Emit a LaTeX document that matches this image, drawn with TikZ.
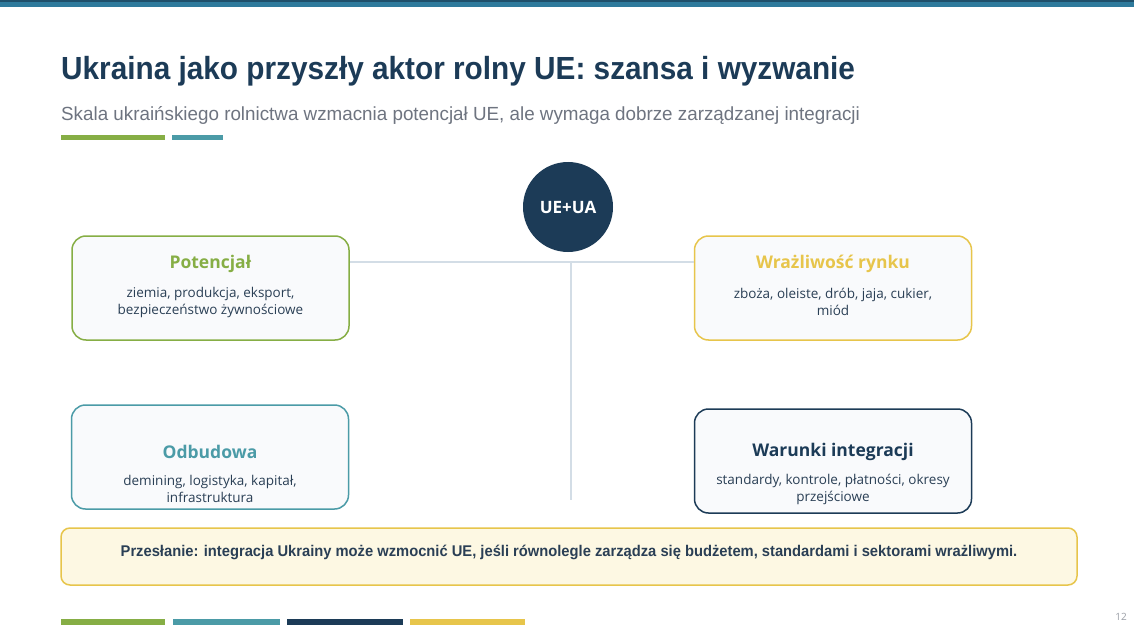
\documentclass[tikz,border=0pt]{standalone}
\usepackage{fontspec}
\setmainfont{Open Sans}
\newfontfamily\titlefont[FakeStretch=0.93]{Liberation Sans}
\newfontfamily\subfont[FakeStretch=0.99]{Liberation Sans}
\newfontfamily\msgfont[FakeStretch=0.95]{Liberation Sans}
\definecolor{cgreen}{HTML}{86AE45}
\definecolor{cteal}{HTML}{4B9BA7}
\definecolor{cnavy}{HTML}{1C3B57}
\definecolor{cyellow}{HTML}{E7C54B}
\definecolor{cbox}{HTML}{F9FAFC}
\definecolor{cline}{HTML}{D3DDE6}
\definecolor{ctext}{HTML}{2A3F55}
\definecolor{csub}{HTML}{6E7480}
\definecolor{cmsg}{HTML}{FDF8E3}
\definecolor{cbar}{HTML}{2E7A9C}
\definecolor{cbartop}{HTML}{1F4F6A}
\tikzset{
  card/.style={draw=#1, line width=1.5pt, fill=cbox, rounded corners=14pt,
    minimum width=277pt, minimum height=104pt, inner sep=0pt},
  cardtitle/.style={text=#1, font=\fontsize{17.5}{20}\selectfont\bfseries, inner sep=0pt},
  cardbody/.style={text=ctext, font=\fontsize{13.5}{17}\selectfont, align=center, inner sep=0pt},
  conn/.style={draw=cline, line width=2.5pt},
  accent/.style={fill=#1, draw=none},
}
\begin{document}
\begin{tikzpicture}[x=1pt,y=-1pt]
\useasboundingbox[fill=white] (0,0) rectangle (1134,639);
% top bar
\fill[cbar] (0,0) rectangle (1134,7);
\fill[cbartop] (0,0) rectangle (1134,2);
% title
\node[anchor=base west, inner sep=0pt, text=cnavy, font=\titlefont\fontsize{32}{36}\selectfont\bfseries] (title) at (61,80) {Ukraina jako przyszły aktor rolny UE: szansa i wyzwanie};
\node[anchor=base west, inner sep=0pt, text=csub, font=\subfont\fontsize{19}{22}\selectfont] (subtitle) at (61,121) {Skala ukraińskiego rolnictwa wzmacnia potencjał UE, ale wymaga dobrze zarządzanej integracji};
\fill[accent=cgreen] (61,135) rectangle (165,140);
\fill[accent=cteal] (172,135) rectangle (223,140);
% hub
\coordinate (hub) at (571,262);
\coordinate (vend) at (571,500);
% cards
\node[card=cgreen] (pot) at (210.5,288) {};
\node[card=cyellow] (wr) at (833,288) {};
\node[card=cteal] (odb) at (210,457) {};
\node[card=cnavy] (war) at (833,461) {};
% connectors
\draw[conn] (pot.east |- hub) -- (wr.west |- hub);
\draw[conn] (hub) -- (vend);
% circle
\node[circle, fill=cnavy, minimum size=90pt, inner sep=0pt, text=white, font=\fontsize{17}{20}\selectfont\bfseries] (ueua) at (568,207) {UE+UA};
% card texts
\node[cardtitle=cgreen] (potT) at (210.5,264) {Potencjał};
\node[cardbody] (potB) at (210.5,302) {ziemia, produkcja, eksport,\\bezpieczeństwo żywnościowe};
\node[cardtitle=cyellow] (wrT) at (833,264) {Wrażliwość rynku};
\node[cardbody] (wrB) at (833,302) {zboża, oleiste, drób, jaja, cukier,\\miód};
\node[cardtitle=cteal] (odbT) at (210,451.5) {Odbudowa};
\node[cardbody] (odbB) at (210,489) {demining, logistyka, kapitał,\\infrastruktura};
\node[cardtitle=cnavy] (warT) at (833,451.5) {Warunki integracji};
\node[cardbody] (warB) at (833,489) {standardy, kontrole, płatności, okresy\\przejściowe};
% message
\node[draw=cyellow, line width=1.5pt, fill=cmsg, rounded corners=9pt, minimum width=1016pt, minimum height=57pt, inner sep=0pt] (msg) at (569,556.5) {};
\node[text=ctext, inner sep=0pt, font=\msgfont\fontsize{15.5}{18}\selectfont\bfseries] (msgT) at (569,552) {Przesłanie: integracja Ukrainy może wzmocnić UE, jeśli równolegle zarządza się budżetem, standardami i sektorami wrażliwymi.};
% bottom bars
\fill[accent=cgreen] (61,619) rectangle (165,625);
\fill[accent=cteal] (173,619) rectangle (280,625);
\fill[accent=cnavy] (287,619) rectangle (403,625);
\fill[accent=cyellow] (410,619) rectangle (525,625);
\node[text=csub!70, inner sep=0pt, font=\fontsize{10}{12}\selectfont] (page) at (1121,617) {12};
\end{tikzpicture}
\end{document}
